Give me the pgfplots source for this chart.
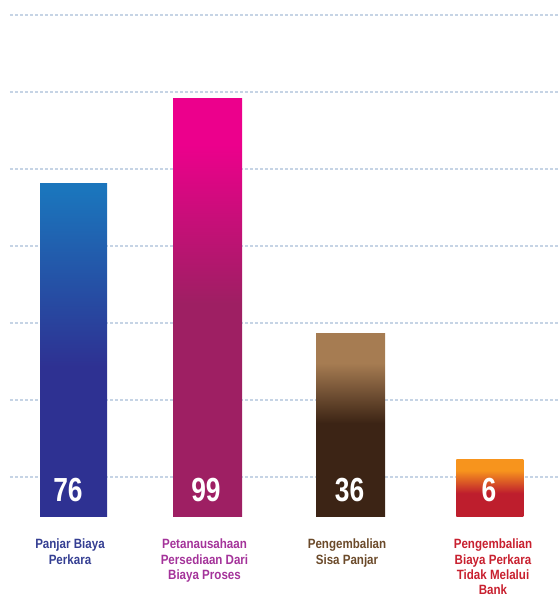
\documentclass[border=0pt]{standalone}
\usepackage{fontspec}
\setmainfont{Liberation Sans}
\newfontfamily\condfont{Liberation Sans}[FakeStretch=0.86]
\newfontfamily\numfont{Liberation Sans}[FakeStretch=0.79]
\usepackage{pgfplots}
\pgfplotsset{compat=1.18}
\definecolor{b1light}{HTML}{1B75BC}
\definecolor{b1dark}{HTML}{2E3192}
\definecolor{b2light}{HTML}{EC008C}
\definecolor{b2dark}{HTML}{9E1F63}
\definecolor{b3light}{HTML}{A67C52}
\definecolor{b3dark}{HTML}{3C2415}
\definecolor{b4light}{HTML}{F7941D}
\definecolor{b4dark}{HTML}{BE1E2D}
\definecolor{gridc}{HTML}{C6D4E5}
\definecolor{l1}{HTML}{343E92}
\definecolor{l2}{HTML}{A4339A}
\definecolor{l3}{HTML}{6B4A2A}
\definecolor{l4}{HTML}{C8202F}
\pgfdeclareverticalshading{shA}{100bp}{color(0bp)=(b1dark); color(47.5bp)=(b1dark); color(74bp)=(b1light); color(100bp)=(b1light)}
\pgfdeclareverticalshading{shB}{100bp}{color(0bp)=(b2dark); color(50.5bp)=(b2dark); color(69.5bp)=(b2light); color(100bp)=(b2light)}
\pgfdeclareverticalshading{shC}{100bp}{color(0bp)=(b3dark); color(50.5bp)=(b3dark); color(67bp)=(b3light); color(100bp)=(b3light)}
\pgfdeclareverticalshading{shD}{100bp}{color(0bp)=(b4dark); color(45bp)=(b4dark); color(65bp)=(b4light); color(100bp)=(b4light)}
\begin{document}
\begin{tikzpicture}
\useasboundingbox (-10bp,-81bp) rectangle (549bp,516bp);
\begin{axis}[
  scale only axis, width=549bp, height=516bp,
  xmin=10, xmax=559, ymin=0, ymax=6.701,
  enlargelimits=false, clip=false,
  axis line style={draw=none},
  major tick length=0pt,
  ytick={0.5,1.5,2.5,3.5,4.5,5.5,6.5}, yticklabels={},
  ymajorgrids,
  major grid style={draw=gridc, line width=2bp, dash pattern=on 3bp off 2bp},
  xtick={70,204.5,347,493},
  xticklabels={
    {\color{l1}Panjar Biaya\\\color{l1}Perkara},
    {\color{l2}Petanausahaan\\\color{l2}Persediaan Dari\\\color{l2}Biaya Proses},
    {\color{l3}Pengembalian\\\color{l3}Sisa Panjar},
    {\color{l4}Pengembalian\\\color{l4}Biaya Perkara\\\color{l4}Tidak Melalui\\\color{l4}Bank}},
  xticklabel style={align=center, anchor=north, inner sep=0pt, yshift=-23bp,
    font=\condfont\bfseries\fontsize{13.5}{15.4}\selectfont},
]
\addplot[ybar, bar shift=0pt, bar width=67, draw=none, shade, shading=shA] coordinates {(73.5,4.312)};
\addplot[ybar, bar shift=0pt, bar width=69, draw=none, shade, shading=shB] coordinates {(207.7,5.416)};
\addplot[ybar, bar shift=0pt, bar width=69, draw=none, shade, shading=shC] coordinates {(350.5,2.364)};
\addplot[ybar, bar shift=0pt, bar width=67, draw=none, shade, shading=shD] coordinates {(489.8,0.740)};
\addplot[draw=none, mark=none, nodes near coords, point meta=explicit symbolic,
  every node near coord/.append style={anchor=center, inner sep=0pt, text=white,
    font=\numfont\bfseries\fontsize{33.5}{36}\selectfont}]
  table[meta=lab] {
x y lab
68 0.338 76
206 0.338 99
349.5 0.338 36
489 0.338 6
};
\end{axis}
\end{tikzpicture}
\end{document}
